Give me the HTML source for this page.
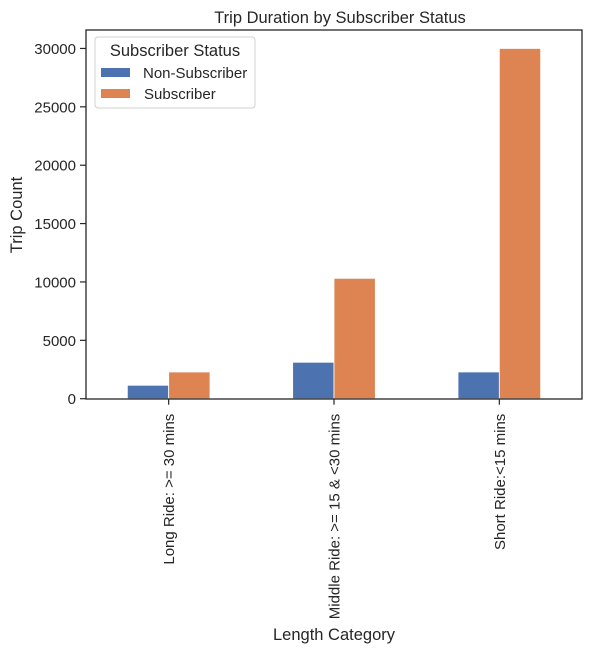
<!DOCTYPE html>
<html><head><meta charset="utf-8"><style>
body{margin:0;background:#fff;}
svg text{font-family:"Liberation Sans",Arial,sans-serif;fill:#262626;}
</style></head><body>
<svg width="592" height="653" viewBox="0 0 592 653" xmlns="http://www.w3.org/2000/svg">
<rect width="592" height="653" fill="#fff"/>
<text x="340" y="23" font-size="16.5" text-anchor="middle">Trip Duration by Subscriber Status</text>
<g id="bars"></g>
<g id="yaxis"></g>
<g id="xaxis"></g>
<rect x="86" y="30" width="496" height="369" fill="none" stroke="#262626" stroke-width="1.3"/>
<text transform="translate(22,215) rotate(-90)" font-size="16.5" text-anchor="middle">Trip Count</text>
<text x="334" y="640" font-size="16.5" text-anchor="middle">Length Category</text>
<g>
<rect x="95" y="37" width="160" height="71" rx="3" fill="#fff" fill-opacity="0.8" stroke="#d0d0d0"/>
<text x="175" y="56" font-size="16.5" text-anchor="middle">Subscriber Status</text>
<rect x="101" y="68" width="29" height="9" fill="#4c72b0"/>
<text x="143" y="78" font-size="15">Non-Subscriber</text>
<rect x="101" y="89" width="29" height="9" fill="#dd8452"/>
<text x="144" y="99" font-size="15">Subscriber</text>
</g>
</svg>
<script>
const categories = ["Long Ride: >= 30 mins", "Middle Ride: >= 15 & <30 mins", "Short Ride:<15 mins"];
const nonSubscriber = [1150, 3120, 2290];
const subscriber = [2290, 10310, 30000];
const yTicks = [0, 5000, 10000, 15000, 20000, 25000, 30000];
const NS = "http://www.w3.org/2000/svg";
const L = 86, R = 582, T = 30, B = 398.7;
const yMax = 31580;
function y(v){ return B - v / yMax * (B - T); }
function x(i){ return L + (i + 0.5) / categories.length * (R - L); }
const unit = (R - L) / categories.length;
function mk(tag, attrs, parent){ const e = document.createElementNS(NS, tag); for (const k in attrs) e.setAttribute(k, attrs[k]); parent.appendChild(e); return e; }
const bars = document.getElementById('bars');
const series = [[nonSubscriber, "#4c72b0", "non-subscriber"], [subscriber, "#dd8452", "subscriber"]];
series.forEach((s, si) => {
  s[0].forEach((v, i) => {
    const bx = x(i) + (si - 1) * unit * 0.25;
    const r = mk('rect', {x: bx, y: y(v), width: unit * 0.25, height: B - y(v), fill: s[1], stroke: '#fff', 'stroke-width': 0.8}, bars);
    
    
  });
});
const ya = document.getElementById('yaxis');
yTicks.forEach(t => {
  const l = mk('line', {x1: L - 6, x2: L, y1: y(t), y2: y(t), stroke: '#262626', 'stroke-width': 1.2}, ya);
  
  
  const tx = mk('text', {x: L - 10, y: y(t) + 5.5, 'font-size': 15, 'text-anchor': 'end'}, ya);
  tx.textContent = t;
  
  
});
const xa = document.getElementById('xaxis');
categories.forEach((c, i) => {
  const l = mk('line', {x1: x(i), x2: x(i), y1: B, y2: B + 6, stroke: '#262626', 'stroke-width': 1.2}, xa);
  
  
  const tx = mk('text', {transform: 'translate(' + (x(i) + 5.5) + ',' + (B + 15) + ') rotate(-90)', 'font-size': 15, 'text-anchor': 'end'}, xa);
  tx.textContent = c;
  
  
});
</script>
</body></html>
